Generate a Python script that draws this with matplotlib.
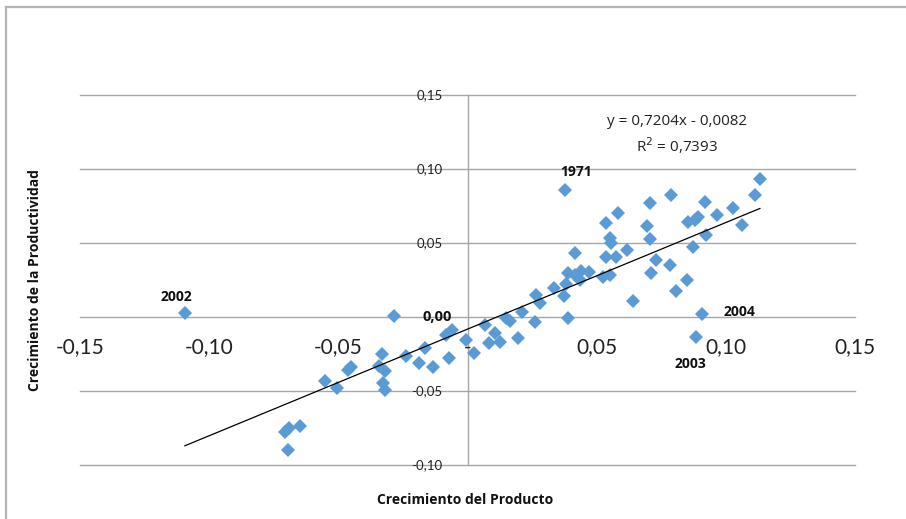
import matplotlib
matplotlib.use('Agg')
import matplotlib.pyplot as plt
import numpy as np

# Crecimiento del producto (x) y de la productividad (y)
crec_producto = [-0.1094, -0.0286, -0.0705, -0.0690, -0.0648, -0.0695, -0.0550,
                 -0.0507, -0.0451, -0.0464, -0.0331, -0.0341, -0.0320, -0.0326,
                 -0.0320, -0.0240, -0.0186, -0.0166, -0.0132, -0.0085, -0.0059,
                 -0.0072, -0.0005, 0.0027, 0.0066, 0.0083, 0.0105, 0.0124,
                 0.0150, 0.0165, 0.0195, 0.0212, 0.0260, 0.0264, 0.0279,
                 0.0333, 0.0372, 0.0376, 0.0389, 0.0389, 0.0382, 0.0415,
                 0.0415, 0.0434, 0.0441, 0.0470, 0.0525, 0.0535, 0.0537,
                 0.0550, 0.0557, 0.0553, 0.0576, 0.0583, 0.0618, 0.0641,
                 0.0695, 0.0708, 0.0708, 0.0729, 0.0709, 0.0783, 0.0787,
                 0.0809, 0.0850, 0.0854, 0.0871, 0.0886, 0.0906, 0.0893,
                 0.0880, 0.0919, 0.0925, 0.0964, 0.1028, 0.1061, 0.1112,
                 0.1132]
crec_productividad = [0.0025, 0.0007, -0.0775, -0.0748, -0.0736, -0.0899, -0.0430,
                      -0.0482, -0.0340, -0.0358, -0.0250, -0.0331, -0.0363, -0.0448,
                      -0.0493, -0.0264, -0.0313, -0.0207, -0.0336, -0.0122, -0.0088,
                      -0.0279, -0.0155, -0.0241, -0.0054, -0.0178, -0.0110, -0.0167,
                      -0.0009, -0.0025, -0.0144, 0.0036, -0.0032, 0.0149, 0.0097,
                      0.0194, 0.0142, 0.0858, -0.0009, 0.0295, 0.0223, 0.0430,
                      0.0284, 0.0250, 0.0313, 0.0306, 0.0273, 0.0633, 0.0408,
                      0.0532, 0.0498, 0.0284, 0.0408, 0.0701, 0.0453, 0.0110,
                      0.0615, 0.0773, 0.0525, 0.0385, 0.0295, 0.0351, 0.0824,
                      0.0178, 0.0250, 0.0644, 0.0470, -0.0137, 0.0018, 0.0678,
                      0.0655, 0.0779, 0.0554, 0.0689, 0.0734, 0.0622, 0.0824,
                      0.0934]

# años destacados: (índice del punto, etiqueta, desplazamiento en pt, alineación)
etiquetas_anio = [(0, '2002', (-6, 12), 'center'),
                  (37, '1971', (8, 13), 'center'),
                  (68, '2004', (16, 2), 'left'),
                  (67, '2003', (-4, -19), 'center')]

pendiente = 0.7204
intercepto = -0.0082
r2 = 0.7393

x_ticks = [-0.15, -0.10, -0.05, 0.0, 0.05, 0.10, 0.15]
y_ticks = [-0.10, -0.05, 0.0, 0.05, 0.10, 0.15]


def fmt(v):
    if abs(v) < 1e-9:
        return '-'
    return '{:.2f}'.format(v).replace('.', ',')


plt.rcParams['font.family'] = ['Open Sans', 'DejaVu Sans']

W, H = 906, 519
fig = plt.figure(figsize=(W / 100, H / 100), dpi=100)
ax = fig.add_axes([80 / W, 1 - 465 / H, 775 / W, 370 / H])
ax.set_xlim(-0.15, 0.15)
ax.set_ylim(-0.10, 0.15)
for s in ax.spines.values():
    s.set_visible(False)
ax.set_xticks([])
ax.set_yticks([])

# marco del gráfico
fig.add_artist(plt.Line2D([6 / W, 1], [1 - 7 / H, 1 - 7 / H], color='#b4b4b4', lw=1.6))
fig.add_artist(plt.Line2D([6 / W, 6 / W], [0, 1 - 7 / H], color='#b4b4b4', lw=1.6))

# líneas de división y eje vertical
for yv in y_ticks:
    ax.axhline(yv, color='#a6a6a6', lw=1.0, zorder=1, clip_on=False)
ax.axvline(0.0, color='#a6a6a6', lw=1.0, zorder=1, clip_on=False)

# rótulos de los ejes
for xv in x_ticks:
    ax.annotate(fmt(xv), (xv, 0.0), xytext=(0, -22), textcoords='offset points',
                ha='center', va='center', fontsize=15, color='#222222',
                family=['Lato', 'DejaVu Sans'])
for yv in y_ticks:
    if abs(yv) < 1e-9:
        continue
    ax.annotate(fmt(yv), (0.0, yv), xytext=(-18, 0), textcoords='offset points',
                ha='right', va='center', fontsize=9.5, color='#222222',
                family=['Liberation Sans Narrow', 'Lato', 'DejaVu Sans'])
ax.annotate('0,00', (0.0, 0.0), xytext=(-11, 0), textcoords='offset points',
            ha='right', va='center', fontsize=10.5, fontweight='bold', color='#111111')

# puntos
ax.plot(crec_producto, crec_productividad, linestyle='none', marker='D',
        markersize=7, color='#5b9bd5', markeredgewidth=0, zorder=3)

# línea de tendencia
xt = np.array([min(crec_producto), max(crec_producto)])
ax.plot(xt, pendiente * xt + intercepto, color='black', lw=0.9, zorder=4)

ax.text(0.081, 0.132, 'y = {:.4f}x - {:.4f}'.format(pendiente, -intercepto).replace('.', ','),
        ha='center', va='center', fontsize=11, color='#222222')
ax.text(0.081, 0.116, 'R$^2$ = {:.4f}'.format(r2).replace('.', ','),
        ha='center', va='center', fontsize=11, color='#222222')

for i, lab, off, ha in etiquetas_anio:
    ax.annotate(lab, (crec_producto[i], crec_productividad[i]), xytext=off,
                textcoords='offset points', ha=ha, va='center', fontsize=10,
                fontweight='bold', color='#111111')

fig.text(465 / W, 1 - 500 / H, 'Crecimiento del Producto', ha='center', va='center',
         fontsize=10, fontweight='bold', color='#111111')
fig.text(35 / W, 1 - 280 / H, 'Crecimiento de la Productividad', ha='center',
         va='center', rotation=90, fontsize=10, fontweight='bold', color='#111111')

fig.savefig('out.png', dpi=100)
